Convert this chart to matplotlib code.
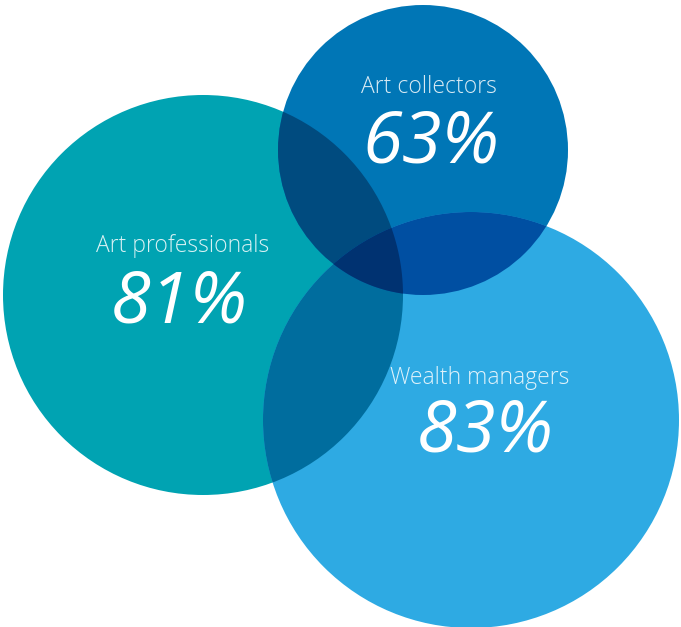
import matplotlib
matplotlib.use("Agg")
import matplotlib.pyplot as plt
import numpy as np
from matplotlib.patches import Circle, Polygon

# groups: label, share, circle centre (x, y) and radius in canvas units
groups = ["Art professionals", "Art collectors", "Wealth managers"]
shares = [81, 63, 83]
centres = [(203, 295), (423, 150), (471, 420)]
radii = [200, 145, 208]
colours = ["#00a3b2", "#0076b6", "#2eaae3"]
label_pos = [(183, 246), (429, 87), (480, 378)]
value_pos = [(179, 304), (431, 144), (485, 433)]


def rgb(c):
    return np.array(matplotlib.colors.to_rgb(c))


def lens(i, j, n=720):
    # polygon of the overlap of circles i and j (convex, so sort by angle)
    t = np.linspace(0, 2 * np.pi, n, endpoint=False)
    pts = []
    for a, b in [(i, j), (j, i)]:
        cx, cy = centres[a]
        ring = np.c_[cx + radii[a] * np.cos(t), cy + radii[a] * np.sin(t)]
        d = np.hypot(ring[:, 0] - centres[b][0], ring[:, 1] - centres[b][1])
        pts.append(ring[d <= radii[b]])
    pts = np.vstack(pts)
    m = pts.mean(axis=0)
    order = np.argsort(np.arctan2(pts[:, 1] - m[1], pts[:, 0] - m[0]))
    return pts[order]


fig = plt.figure(figsize=(6.81, 6.27), dpi=100)
ax = fig.add_axes([0, 0, 1, 1])
ax.set_xlim(0, 681)
ax.set_ylim(627, 0)
ax.set_aspect("equal")
ax.axis("off")

circles = []
for c, r, col in zip(centres, radii, colours):
    p = Circle(c, r, facecolor=col, edgecolor="none")
    ax.add_patch(p)
    circles.append(p)

# overlaps are coloured as a multiply blend of the circles involved
for i, j in [(0, 1), (0, 2), (1, 2)]:
    col = rgb(colours[i]) * rgb(colours[j])
    p = Circle(centres[i], radii[i], facecolor=col, edgecolor="none")
    ax.add_patch(p)
    p.set_clip_path(circles[j])

col = rgb(colours[0]) * rgb(colours[1]) * rgb(colours[2])
tri = Polygon(lens(0, 1), closed=True, facecolor=col, edgecolor="none")
ax.add_patch(tri)
tri.set_clip_path(circles[2])

for g, s, lp, vp in zip(groups, shares, label_pos, value_pos):
    ax.text(lp[0], lp[1], g, ha="center", va="center", color="white",
            alpha=0.85, fontsize=16.5, family="Open Sans", weight="light")
    ax.text(vp[0], vp[1], f"{s}%", ha="center", va="center", color="white",
            fontsize=52, family="Open Sans", style="italic", weight="normal")

fig.savefig("out.png", dpi=100)
